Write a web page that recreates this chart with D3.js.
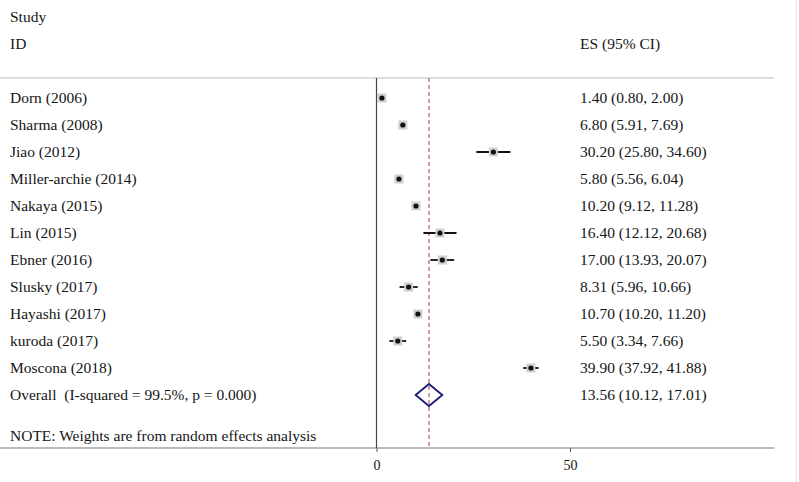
<!DOCTYPE html>
<html><head><meta charset="utf-8">
<script src="https://cdn.jsdelivr.net/npm/d3@7"></script>
<style>body{margin:0;background:#fff}svg{display:block}text{font-family:"Liberation Serif","Times New Roman",serif;font-size:15.5px;fill:#151515}</style>
</head><body><svg id="c" width="799" height="482"></svg>
<script>
const studies = ["Dorn (2006)","Sharma (2008)","Jiao (2012)","Miller-archie (2014)","Nakaya (2015)","Lin (2015)","Ebner (2016)","Slusky (2017)","Hayashi (2017)","kuroda (2017)","Moscona (2018)"];
const es = [1.40,6.80,30.20,5.80,10.20,16.40,17.00,8.31,10.70,5.50,39.90];
const lo = [0.80,5.91,25.80,5.56,9.12,12.12,13.93,5.96,10.20,3.34,37.92];
const hi = [2.00,7.69,34.60,6.04,11.28,20.68,20.07,10.66,11.20,7.66,41.88];
const overall = {label:"Overall  (I-squared = 99.5%, p = 0.000)", es:13.56, lo:10.12, hi:17.01};
const ticks = [0,50];
const note = "NOTE: Weights are from random effects analysis";

(function(){
const svg = d3.select("#c");
const x = d3.scaleLinear().domain([0,50]).range([376.5,570]);
const rows = studies.concat([overall.label]);
const y = d3.scalePoint().domain(rows).range([98,395]);
const yTop = 78, yBot = 448;
const fmt = d3.format(".2f");

svg.append("rect").attr("x",796).attr("y",0).attr("width",1).attr("height",482).attr("fill","#e4e4e4");

svg.append("text").attr("x",10).attr("y",22).text("Study");
svg.append("text").attr("x",10).attr("y",49).text("ID");
svg.append("text").attr("x",580).attr("y",49).text("ES (95% CI)");
svg.append("line").attr("x1",0).attr("x2",774).attr("y1",yTop).attr("y2",yTop).attr("stroke","#bbb").attr("stroke-width",1.2);

const ax = svg.append("g").attr("transform",`translate(0,${yBot})`)
  .call(d3.axisBottom(x).tickValues(ticks).tickSize(4).tickFormat(d3.format("d")));
ax.select(".domain").remove();
ax.selectAll("line").attr("stroke","#555");
ax.selectAll("text").attr("dy","1.05em").style("font-family","Liberation Serif").style("font-size","14px").attr("fill","#111");
svg.append("line").attr("x1",0).attr("x2",774).attr("y1",yBot).attr("y2",yBot).attr("stroke","#777").attr("stroke-width",1.2);
svg.append("line").attr("x1",x(0)).attr("x2",x(0)).attr("y1",yTop).attr("y2",yBot).attr("stroke","#444").attr("stroke-width",1.2);

svg.append("line").attr("x1",x(overall.es)).attr("x2",x(overall.es)).attr("y1",yTop).attr("y2",yBot)
  .attr("stroke","#c06868").attr("stroke-width",1.3).attr("stroke-dasharray","4,3");

const g = svg.append("g");
studies.forEach((s,i)=>{
  const yy = y(s);
  g.append("text").attr("x",10).attr("y",yy+5).text(s);
  g.append("text").attr("x",580).attr("y",yy+5).text(`${fmt(es[i])} (${fmt(lo[i])}, ${fmt(hi[i])})`);
  g.append("line").attr("x1",x(lo[i])).attr("x2",x(hi[i])).attr("y1",yy).attr("y2",yy).attr("stroke","#111").attr("stroke-width",1.8);
  g.append("rect").attr("x",x(es[i])-4.5).attr("y",yy-4.5).attr("width",9).attr("height",9).attr("fill","#cfcfcf");
  g.append("circle").attr("cx",x(es[i])).attr("cy",yy).attr("r",2.6).attr("fill","#111");
});
const oy = y(overall.label);
g.append("text").attr("x",10).attr("y",oy+5).attr("xml:space","preserve").style("white-space","pre").text(overall.label);
g.append("text").attr("x",580).attr("y",oy+5).text(`${fmt(overall.es)} (${fmt(overall.lo)}, ${fmt(overall.hi)})`);
g.append("path").attr("d",`M${x(overall.lo)},${oy}L${x(overall.es)},${oy-11}L${x(overall.hi)},${oy}L${x(overall.es)},${oy+11}Z`)
  .attr("fill","none").attr("stroke","#1a1a7a").attr("stroke-width",1.8);
svg.append("text").attr("x",10).attr("y",441).text(note);
})();
</script></body></html>
